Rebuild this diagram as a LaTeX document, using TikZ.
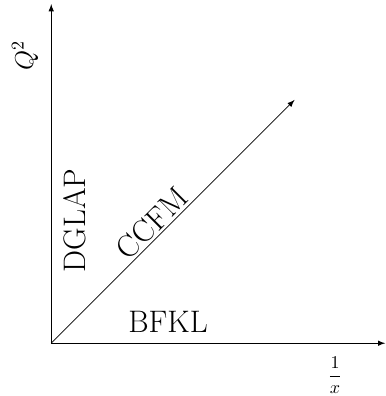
\documentclass[tikz,border=0pt]{standalone}
\usepackage{tikz}
\usetikzlibrary{arrows}

\begin{document}
\begin{tikzpicture}[
  axis/.style={-latex},
  lbl/.style={font=\LARGE, inner sep=0pt},
]
\useasboundingbox (-1.0,-1.03) rectangle (6.52,6.70);

\coordinate (o)  at (0, 0);
\coordinate (qq) at (0, 6.62);
\coordinate (ix) at (6.52, 0);
\coordinate (ev) at (4.75, 4.75);

\draw[axis] (o) -- (qq);
\draw[axis] (o) -- (ix);
\draw[axis] (o) -- (ev);

\node[font=\Large, rotate=90] (qlab) at (-0.51, 5.62) {$Q^2$};
\node (xlab) at (5.54, -0.62) {$\displaystyle\frac{1}{x}$};
\node[lbl, rotate=90] (dglap) at (0.45, 2.40) {DGLAP};
\node[lbl, rotate=45] (ccfm)  at (1.97, 2.34) {CCFM};
\node[lbl] (bfkl) at (2.28, 0.41) {BFKL};

\end{tikzpicture}
\end{document}
